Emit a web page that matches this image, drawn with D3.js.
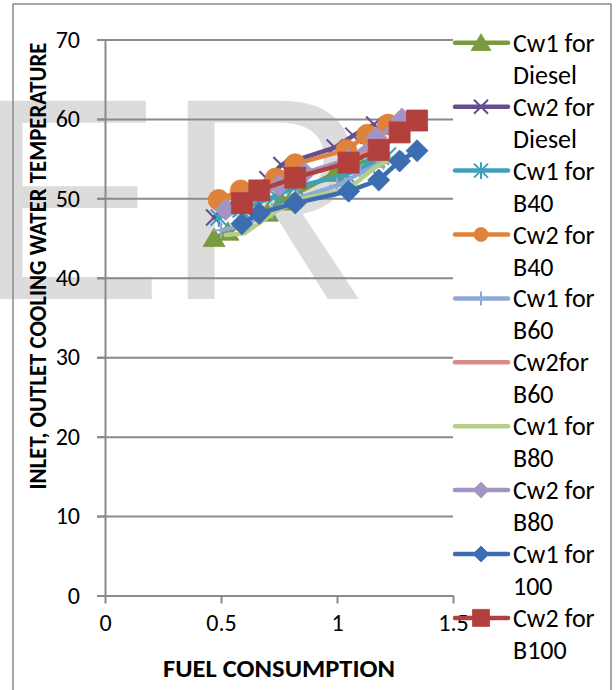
<!DOCTYPE html>
<html>
<head>
<meta charset="utf-8">
<script src="https://cdn.jsdelivr.net/npm/d3@7"></script>
<style>
  html, body { margin: 0; padding: 0; background: #fff; }
  svg { display: block; }
</style>
</head>
<body>
<svg id="chart" width="616" height="690"></svg>
<script>
// ---------------- data ----------------
const seriesNames = ["Cw1 for|Diesel", "Cw2 for|Diesel", "Cw1 for|B40", "Cw2 for|B40", "Cw1 for|B60",
                     "Cw2for|B60", "Cw1 for|B80", "Cw2 for|B80", "Cw1 for|100", "Cw2 for|B100"];
const seriesColors = ["#799A3F", "#654E8E", "#40A0B9", "#E0823A", "#8EA9D8",
                      "#D98B8B", "#B5CF8A", "#A494C3", "#3B6DB0", "#B2403D"];
const seriesMarkers = ["triangle", "x", "star", "circle", "plus", "none", "none", "diamond", "diamond", "square"];

const fuelDiesel = [0.47, 0.53, 0.70, 0.76, 0.99, 1.07, 1.16];
const cw1Diesel  = [45.0, 45.8, 48.2, 49.6, 53.2, 54.2, 55.0];
const cw2Diesel  = [47.6, 49.0, 52.4, 54.2, 56.4, 57.9, 59.3];

const fuelB40 = [0.49, 0.585, 0.735, 0.82, 1.04, 1.13, 1.22];
const cw1B40  = [47.6, 48.6, 50.3, 51.4, 53.0, 54.2, 55.4];
const cw2B40  = [49.8, 51.0, 52.5, 54.3, 56.1, 58.0, 59.3];

const fuelB60 = [0.50, 0.60, 0.72, 0.83, 1.00, 1.10, 1.20];
const cw1B60  = [46.0, 46.6, 48.4, 50.0, 51.6, 53.2, 54.6];
const cw2B60  = [48.4, 49.4, 51.2, 52.6, 54.2, 55.6, 57.2];

const fuelB80 = [0.52, 0.60, 0.75, 0.86, 1.05, 1.17, 1.28];
const cw1B80  = [45.4, 45.6, 48.6, 50.0, 51.2, 54.0, 55.6];
const cw2B80  = [48.6, 49.6, 51.6, 53.2, 54.9, 57.6, 60.0];

const fuelB100 = [0.59, 0.665, 0.82, 1.05, 1.18, 1.27, 1.345];
const cw1B100  = [46.8, 48.1, 49.4, 50.9, 52.3, 54.7, 56.0];
const cw2B100  = [49.4, 51.0, 52.6, 54.5, 56.1, 58.3, 59.8];

const xTicks = [0, 0.5, 1, 1.5];
const xTickLabels = ["0", "0.5", "1", "1.5"];
const yTicks = [0, 10, 20, 30, 40, 50, 60, 70];
const xTitle = "FUEL CONSUMPTION";
const yTitle = "INLET, OUTLET COOLING WATER TEMPERATURE";
const watermark = "ER";

const seriesX = [fuelDiesel, fuelDiesel, fuelB40, fuelB40, fuelB60, fuelB60, fuelB80, fuelB80, fuelB100, fuelB100];
const seriesY = [cw1Diesel, cw2Diesel, cw1B40, cw2B40, cw1B60, cw2B60, cw1B80, cw2B80, cw1B100, cw2B100];

// ---------------- drawing ----------------
const svg = d3.select("#chart");
const FONT = "Carlito, Calibri, Lato, 'Open Sans', sans-serif";

// background watermark
svg.append("text")
  .attr("x", -28).attr("y", 299)
  .attr("font-family", "'Liberation Sans', Arial, sans-serif")
  .attr("font-size", 288)
  .attr("fill", "#DCDCDC")
  .text(watermark);

// outer frame
svg.append("rect")
  .attr("x", 13).attr("y", 4).attr("width", 598).attr("height", 700)
  .attr("fill", "none").attr("stroke", "#8a8a8a").attr("stroke-width", 1.5);

const x = d3.scaleLinear().domain([0, 1.5]).range([105, 453]);
const y = d3.scaleLinear().domain([0, 70]).range([595.5, 39.5]);

// gridlines
svg.append("g")
  .attr("transform", `translate(${x(0) - 8},0)`)
  .call(d3.axisRight(y).tickValues(yTicks).tickSize(x(1.5) - x(0) + 8).tickFormat(""))
  .call(g => g.select(".domain").remove())
  .call(g => g.selectAll(".tick line").attr("stroke", "#8a8a8a").attr("stroke-width", 2));

// y axis
svg.append("g")
  .attr("transform", `translate(${x(0)},0)`)
  .call(d3.axisLeft(y).tickValues(yTicks).tickSize(8).tickSizeOuter(0).tickPadding(17))
  .call(g => g.select(".domain").attr("stroke", "#8a8a8a").attr("stroke-width", 2))
  .call(g => g.selectAll(".tick line").attr("stroke", "#8a8a8a").attr("stroke-width", 2))
  .call(g => g.selectAll(".tick text").attr("font-family", FONT).attr("font-size", 24).attr("fill", "#000"));

// x axis
svg.append("g")
  .attr("transform", `translate(0,${y(0)})`)
  .call(d3.axisBottom(x).tickValues(xTicks).tickFormat((d, i) => xTickLabels[i]).tickSize(8).tickSizeOuter(0).tickPadding(10))
  .call(g => g.select(".domain").attr("stroke", "#8a8a8a").attr("stroke-width", 2))
  .call(g => g.selectAll(".tick line").attr("stroke", "#8a8a8a").attr("stroke-width", 2))
  .call(g => g.selectAll(".tick text").attr("font-family", FONT).attr("font-size", 24).attr("fill", "#000"));

// axis titles
svg.append("text")
  .attr("x", 279).attr("y", 668)
  .attr("text-anchor", "middle").attr("dominant-baseline", "central")
  .attr("font-family", FONT).attr("font-weight", "bold").attr("font-size", 25)
  .attr("textLength", 232).attr("lengthAdjust", "spacingAndGlyphs")
  .text(xTitle);

svg.append("text")
  .attr("transform", "translate(37,266) rotate(-90)")
  .attr("text-anchor", "middle").attr("dominant-baseline", "central")
  .attr("font-family", FONT).attr("font-weight", "bold").attr("font-size", 25)
  .attr("textLength", 447).attr("lengthAdjust", "spacingAndGlyphs")
  .text(yTitle);

// marker shapes
function markerPath(type, s) {
  const h = s / 2;
  switch (type) {
    case "triangle": return `M0,${-h * 1.0}L${h * 1.1},${h * 0.85}L${-h * 1.1},${h * 0.85}Z`;
    case "square": return `M${-h},${-h}H${h}V${h}H${-h}Z`;
    case "circle": return `M${h},0A${h},${h} 0 1,1 ${-h},0A${h},${h} 0 1,1 ${h},0Z`;
    case "diamond": return `M0,${-h}L${h},0L0,${h}L${-h},0Z`;
    case "x": return `M${-h},${-h}L${h},${h}M${h},${-h}L${-h},${h}`;
    case "star": return `M${-h},${-h}L${h},${h}M${h},${-h}L${-h},${h}M0,${-h * 1.2}V${h * 1.2}`;
    case "plus": return `M0,${-h}V${h}M${-h},0H${h}`;
    default: return "";
  }
}
const strokeMarkers = new Set(["x", "star", "plus"]);
const plotSize = { triangle: 20, square: 21, circle: 21, diamond: 22, x: 16, star: 16, plus: 16 };
const legendSize = { triangle: 18, square: 17, circle: 14, diamond: 16, x: 14, star: 14, plus: 14 };

const line = d3.line().x(d => x(d[0])).y(d => y(d[1]));

seriesNames.forEach((name, i) => {
  const pts = seriesX[i].map((xv, j) => [xv, seriesY[i][j]]);
  const g = svg.append("g");
  g.append("path")
    .datum(pts)
    .attr("d", line)
    .attr("fill", "none")
    .attr("stroke", seriesColors[i])
    .attr("stroke-width", 4.5)
    .attr("stroke-linejoin", "round")
    .attr("stroke-linecap", "round");
  const m = seriesMarkers[i];
  if (m !== "none") {
    g.selectAll("path.mk")
      .data(pts)
      .join("path")
      .attr("class", "mk")
      .attr("transform", d => `translate(${x(d[0])},${y(d[1])})`)
      .attr("d", markerPath(m, plotSize[m]))
      .attr("fill", strokeMarkers.has(m) ? "none" : seriesColors[i])
      .attr("stroke", seriesColors[i])
      .attr("stroke-width", strokeMarkers.has(m) ? 2 : 0.8);
  }
});

// legend
const legend = svg.append("g");
seriesNames.forEach((name, i) => {
  const cy = 42.8 + i * 63.9;
  const g = legend.append("g");
  g.append("line")
    .attr("x1", 455).attr("x2", 508).attr("y1", cy).attr("y2", cy)
    .attr("stroke", seriesColors[i]).attr("stroke-width", 4.5).attr("stroke-linecap", "round");
  const m = seriesMarkers[i];
  if (m !== "none") {
    g.append("path")
      .attr("transform", `translate(481,${cy})`)
      .attr("d", markerPath(m, legendSize[m]))
      .attr("fill", strokeMarkers.has(m) ? "none" : seriesColors[i])
      .attr("stroke", seriesColors[i])
      .attr("stroke-width", strokeMarkers.has(m) ? 2 : 0.8);
  }
  const parts = name.split("|");
  parts.forEach((p, k) => {
    g.append("text")
      .attr("x", 513).attr("y", cy + k * 32)
      .attr("dominant-baseline", "central")
      .attr("font-family", FONT).attr("font-size", 26).attr("fill", "#000")
      .text(p);
  });
});
</script>
</body>
</html>
